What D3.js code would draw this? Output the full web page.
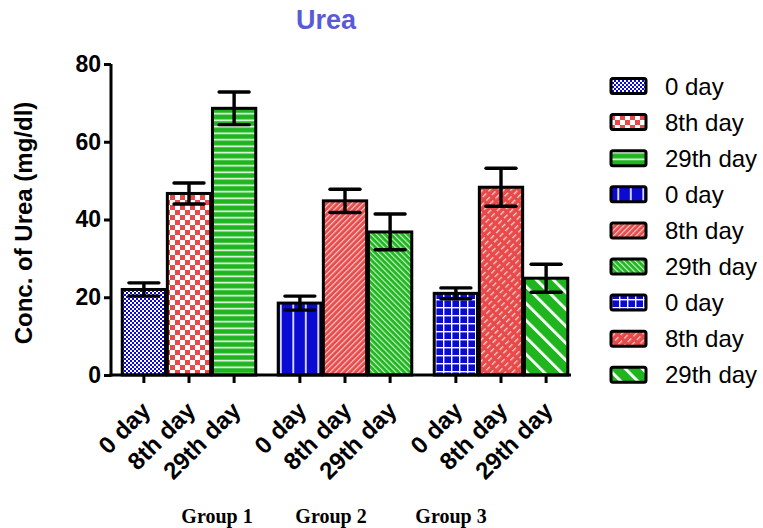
<!DOCTYPE html>
<html><head><meta charset="utf-8">
<script src="https://cdn.jsdelivr.net/npm/d3@7"></script>
<style>body{margin:0;background:#fff}svg{display:block}</style>
</head><body><svg id="c" width="763" height="528"></svg>
<script>
const groups = ["Group 1", "Group 2", "Group 3"];
const days = ["0 day", "8th day", "29th day"];
const means = [[22.0, 46.7, 68.6], [18.5, 44.8, 36.8], [21.0, 48.3, 24.9]];
const errs = [[1.7, 2.7, 4.2], [1.8, 3.0, 4.6], [1.4, 4.9, 3.6]];
const yTicks = [0, 20, 40, 60, 80];
const legendLabels = ["0 day", "8th day", "29th day", "0 day", "8th day", "29th day", "0 day", "8th day", "29th day"];

const BLUE = "#0a0ad2", RED = "#e84a4a", GREEN = "#1fb51f";
const SANS = "Arial, 'Liberation Sans', sans-serif";
const svg = d3.select("#c");
const defs = svg.append("defs");
function pat(id, w, h, bg, draw, rot) {
  const p = defs.append("pattern").attr("id", id).attr("patternUnits", "userSpaceOnUse")
    .attr("width", w).attr("height", h);
  if (rot) p.attr("patternTransform", "rotate(" + rot + ")");
  p.append("rect").attr("width", w).attr("height", h).attr("fill", bg);
  draw(p);
}
// group 1
pat("p00", 4, 4, BLUE, p => { p.append("rect").attr("x",0).attr("y",0).attr("width",2).attr("height",2).attr("fill","#fff");
  p.append("rect").attr("x",2).attr("y",2).attr("width",2).attr("height",2).attr("fill","#fff"); });
pat("p01", 10, 10, RED, p => { p.append("rect").attr("x",0).attr("y",0).attr("width",5).attr("height",5).attr("fill","#fff");
  p.append("rect").attr("x",5).attr("y",5).attr("width",5).attr("height",5).attr("fill","#fff"); });
pat("p02", 6.5, 6.5, GREEN, p => { p.append("rect").attr("x",0).attr("y",2.5).attr("width",6.5).attr("height",1.5).attr("fill","#fff"); });
// group 2
pat("p10", 12.5, 10, BLUE, p => { p.append("rect").attr("x",5).attr("y",0).attr("width",1.6).attr("height",10).attr("fill","#fff"); });
pat("p11", 4, 4, RED, p => { p.append("rect").attr("x",0).attr("y",0).attr("width",1.2).attr("height",4).attr("fill","#f6c9c9"); }, 45);
pat("p12", 4, 4, GREEN, p => { p.append("rect").attr("x",0).attr("y",0).attr("width",1.2).attr("height",4).attr("fill","#c9f0c9"); }, -45);
// group 3
pat("p20", 8, 8, BLUE, p => { p.append("rect").attr("x",3).attr("y",0).attr("width",1.4).attr("height",8).attr("fill","#fff");
  p.append("rect").attr("x",0).attr("y",3).attr("width",8).attr("height",1.4).attr("fill","#fff"); });
pat("p21", 5, 8, RED, p => { p.append("rect").attr("x",0).attr("y",1).attr("width",1.3).attr("height",5).attr("fill","#f8d0d0"); }, 45);
pat("p22", 12, 12, GREEN, p => { p.append("rect").attr("x",0).attr("y",0).attr("width",2.8).attr("height",12).attr("fill","#fff"); }, -45);

const y = d3.scaleLinear().domain([0, 80]).range([375, 64]);
const x0 = d3.scaleBand().domain(groups).range([111, 579]).paddingInner(0.144).paddingOuter(0.072);
const x1 = d3.scaleBand().domain(days).range([0, x0.bandwidth()]).paddingInner(0.04);

const rows = [];
groups.forEach((g, gi) => days.forEach((d, di) => rows.push({g, gi, d, di, v: means[gi][di], e: errs[gi][di]})));

// bars
svg.append("g").selectAll("rect").data(rows).join("rect")
  .attr("x", r => x0(r.g) + x1(r.d))
  .attr("y", r => y(r.v))
  .attr("width", x1.bandwidth())
  .attr("height", r => y(0) - y(r.v))
  .attr("fill", r => "url(#p" + r.gi + r.di + ")")
  .attr("stroke", "#000").attr("stroke-width", 3);

// error bars
const eg = svg.append("g").attr("stroke", "#000").attr("stroke-width", 3.4);
rows.forEach(r => {
  const cx = x0(r.g) + x1(r.d) + x1.bandwidth() / 2;
  eg.append("line").attr("x1", cx).attr("x2", cx).attr("y1", y(r.v + r.e)).attr("y2", y(r.v - r.e));
  eg.append("line").attr("x1", cx - 15).attr("x2", cx + 15).attr("y1", y(r.v + r.e)).attr("y2", y(r.v + r.e)).attr("stroke-linecap", "round");
  eg.append("line").attr("x1", cx - 15).attr("x2", cx + 15).attr("y1", y(r.v - r.e)).attr("y2", y(r.v - r.e)).attr("stroke-linecap", "round");
});

// y axis
const ya = svg.append("g").attr("transform", "translate(111,0)")
  .call(d3.axisLeft(y).tickValues(yTicks).tickSize(7).tickSizeOuter(0));
ya.select(".domain").attr("stroke-width", 3).attr("d", "M0," + (y(0) + 1.5) + "V" + y(80));
ya.selectAll(".tick line").attr("stroke-width", 3);
ya.selectAll(".tick text").attr("font-family", SANS).attr("font-weight", "bold")
  .attr("font-size", 23).attr("fill", "#000").attr("x", -10);

// x axis line
svg.append("line").attr("x1", 109.5).attr("x2", 571).attr("y1", y(0)).attr("y2", y(0))
  .attr("stroke", "#000").attr("stroke-width", 3);
// x ticks & labels
const xt = svg.append("g");
rows.forEach(r => {
  const cx = x0(r.g) + x1(r.d) + x1.bandwidth() / 2;
  xt.append("line").attr("x1", cx).attr("x2", cx).attr("y1", y(0)).attr("y2", y(0) + 8).attr("stroke", "#000").attr("stroke-width", 3);
  xt.append("text").attr("transform", "translate(" + (cx + 8) + "," + (y(0) + 37) + ") rotate(-45)")
    .attr("text-anchor", "end")
    .attr("font-family", SANS).attr("font-weight", "bold").attr("font-size", 24)
    .text(r.d);
});

// group labels
const groupOffsets = [28, -14, -50];
groups.forEach((g, gi) => {
  svg.append("text").attr("x", x0(g) + x0.bandwidth() / 2 + groupOffsets[gi]).attr("y", 523)
    .attr("text-anchor", "middle").attr("font-family", "'Liberation Serif', 'Times New Roman', serif")
    .attr("font-weight", "bold").attr("font-size", 20).text(g);
});

// title
svg.append("text").attr("x", 326).attr("y", 29).attr("text-anchor", "middle")
  .attr("font-family", SANS).attr("font-weight", "bold").attr("font-size", 27)
  .attr("fill", "#5a5ad8").text("Urea");

// y label
svg.append("text").attr("transform", "translate(32,223) rotate(-90)").attr("text-anchor", "middle")
  .attr("font-family", SANS).attr("font-weight", "bold").attr("font-size", 24)
  .text("Conc. of Urea (mg/dl)");

// legend
const lg = svg.append("g");
legendLabels.forEach((lab, i) => {
  const gi = Math.floor(i / 3), di = i % 3;
  const cy = 86 + i * 36.1;
  lg.append("rect").attr("x", 611).attr("y", cy - 7.5).attr("width", 35).attr("height", 15).attr("rx", 2)
    .attr("fill", "url(#p" + gi + di + ")").attr("stroke", "#000").attr("stroke-width", 3);
  lg.append("text").attr("x", 665).attr("y", cy + 8.5).attr("font-family", SANS)
    .attr("font-size", 24).text(lab);
});
</script></body></html>
